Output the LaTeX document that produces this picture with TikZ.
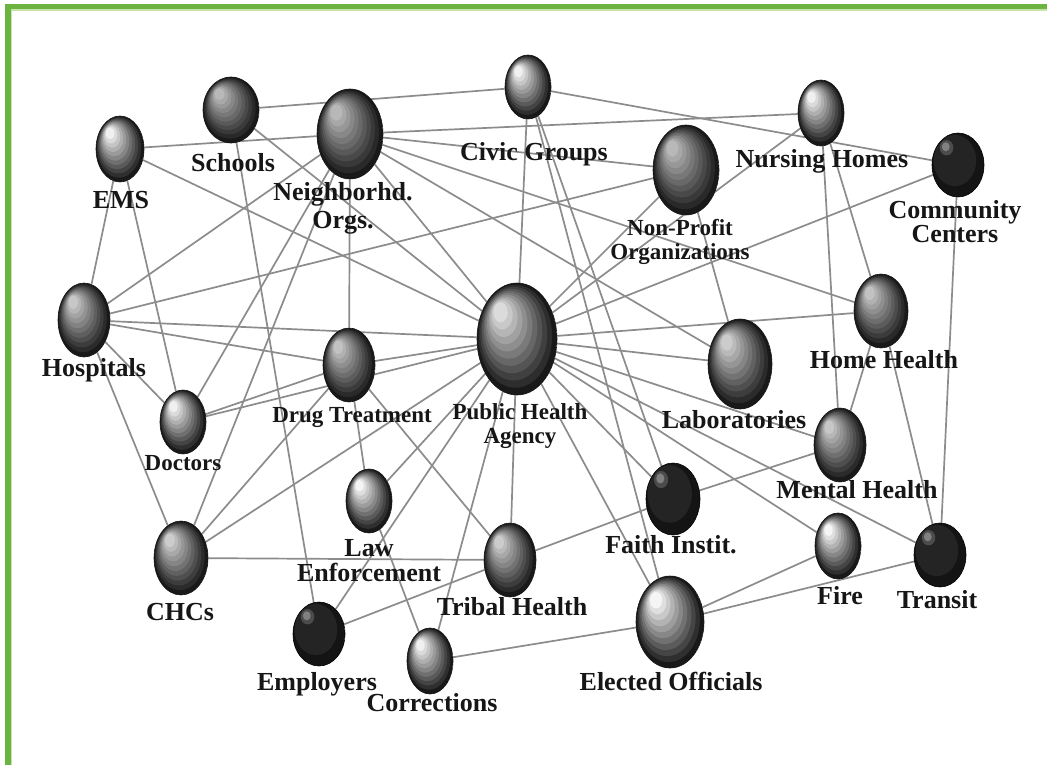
\documentclass[tikz,border=0pt]{standalone}
\usepackage{fontspec}
\setmainfont{Liberation Serif}
\usetikzlibrary{shapes.geometric,calc,backgrounds}
\definecolor{framegreen}{RGB}{108,180,66}
\definecolor{framelight}{RGB}{196,228,170}
\definecolor{edgegray}{RGB}{140,140,140}
\definecolor{ink}{RGB}{22,22,22}
\tikzset{
  sph/.style n args={3}{ellipse, inner sep=0pt, minimum width=#1*2pt, minimum height=#2*2pt,
    draw=black!92, line width=0.6pt,
    path picture={
      \foreach \k in {0,...,10}{
        \pgfmathsetmacro\s{1-\k*0.082}
        \pgfmathsetmacro\g{90-\k*(90-#3)/10}
        \pgfmathsetmacro\dx{-(1-\s)*0.50*#1}
        \pgfmathsetmacro\dy{(1-\s)*0.58*#2}
        \pgfmathsetmacro\rx{\s*#1}
        \pgfmathsetmacro\ry{\s*#2}
        \fill[black!\g] ($(path picture bounding box.center)+(\dx pt,\dy pt)$) ellipse [x radius=\rx pt, y radius=\ry pt];
      }
    }},
  dsph/.style 2 args={ellipse, inner sep=0pt, minimum width=#1*2pt, minimum height=#2*2pt,
    draw=black, line width=0.6pt,
    path picture={
      \fill[black!92] (path picture bounding box.center) ellipse [x radius=#1pt, y radius=#2pt];
      \fill[black!86] ($(path picture bounding box.center)+(-0.12*#1pt,0.14*#2pt)$) ellipse [x radius=0.82*#1pt, y radius=0.8*#2pt];
      \fill[black!70] ($(path picture bounding box.center)+(-0.44*#1pt,0.54*#2pt)$) ellipse [x radius=0.26*#1pt, y radius=0.24*#2pt];
      \fill[black!50] ($(path picture bounding box.center)+(-0.47*#1pt,0.57*#2pt)$) ellipse [x radius=0.15*#1pt, y radius=0.14*#2pt];
    }},
  lab/.style={font=\fontsize{26}{26}\selectfont\bfseries, text=ink, inner sep=0pt, text height=17.7pt, text depth=5.6pt},
  labsm/.style={font=\fontsize{23}{24}\selectfont\bfseries, text=ink, inner sep=0pt, text height=15.6pt, text depth=5pt},
  mlab/.style={font=\fontsize{26}{#1}\selectfont\bfseries, text=ink, inner sep=0pt, align=center},
  mlabsm/.style={font=\fontsize{23}{#1}\selectfont\bfseries, text=ink, inner sep=0pt, align=center},
  link/.style={draw=edgegray, line width=1.7pt}
}
\begin{document}
\begin{tikzpicture}[x=1pt,y=-1pt]
\useasboundingbox (0,0) rectangle (1047,765);
% spheres
\node[sph={23}{32}{6}]  (civic) at (528,87) {};
\node[sph={28}{33}{28}] (schools) at (231,110) {};
\node[sph={24}{33}{6}]  (ems) at (120,149) {};
\node[sph={33}{45}{28}] (neigh) at (350,134) {};
\node[sph={23}{33}{6}]  (nursing) at (821,113) {};
\node[sph={33}{45}{28}] (nonprofit) at (686,170) {};
\node[dsph={26}{32}]    (community) at (958,165) {};
\node[sph={26}{37}{22}] (hospitals) at (84,320) {};
\node[sph={40}{56}{14}] (pha) at (517,339) {};
\node[sph={26}{37}{24}] (drug) at (349,365) {};
\node[sph={23}{32}{6}]  (doctors) at (183,422) {};
\node[sph={32}{45}{20}] (labs) at (740,364) {};
\node[sph={27}{37}{24}] (home) at (881,311) {};
\node[sph={26}{37}{22}] (mental) at (840,445) {};
\node[dsph={27}{36}]    (faith) at (673,499) {};
\node[sph={23}{32}{4}]  (law) at (369,501) {};
\node[sph={27}{37}{20}] (chcs) at (181,558) {};
\node[sph={26}{37}{20}] (tribal) at (510,560) {};
\node[sph={23}{33}{4}]  (fire) at (838,546) {};
\node[dsph={26}{32}]    (transit) at (940,555) {};
\node[dsph={26}{32}]    (employers) at (319,634) {};
\node[sph={23}{33}{6}]  (corrections) at (430,661) {};
\node[sph={34}{46}{4}]  (elected) at (670,622) {};
% labels
\node[lab] (lcivic) at (534,154.5) {Civic Groups};
\node[lab] (lschools) at (233,165.5) {Schools};
\node[lab] (lems) at (121,202.5) {EMS};
\node[mlab=28] (lneigh) at (343,208.6) {Neighborhd.\\Orgs.};
\node[lab] (lnursing) at (822,161.5) {Nursing Homes};
\node[mlabsm=24] (lnonprofit) at (680,242) {Non-Profit\\Organizations};
\node[mlab=22] (lcommunity) at (955,221.2) {Community\\Centers};
\node[lab] (lhospitals) at (94,370.5) {Hospitals};
\node[mlabsm=24] (lpha) at (520,426.2) {Public Health\\Agency};
\node[labsm] (ldrug) at (352,417.3) {Drug Treatment};
\node[labsm] (ldoctors) at (183,465.3) {Doctors};
\node[lab] (llabs) at (734,422.5) {Laboratories};
\node[lab] (lhome) at (884,362.5) {Home Health};
\node[lab] (lmental) at (857,492.5) {Mental Health};
\node[lab] (lfaith) at (671,547.5) {Faith Instit.};
\node[mlab=25] (llaw) at (369,560.7) {Law\\Enforcement};
\node[lab] (lchcs) at (180,614.5) {CHCs};
\node[lab] (ltribal) at (512,609.5) {Tribal Health};
\node[lab] (lfire) at (840,598.5) {Fire};
\node[lab] (ltransit) at (937,602.5) {Transit};
\node[lab] (lemployers) at (317,684.5) {Employers};
\node[lab] (lcorrections) at (432,705.5) {Corrections};
\node[lab] (lelected) at (671,684.5) {Elected Officials};
\begin{scope}[on background layer]
\fill[white] (0,0) rectangle (1047,765);
\fill[framegreen] (5,4) rectangle (1047,9.5);
\fill[framegreen] (5,4) rectangle (10.5,765);
\fill[framelight] (10.5,9.5) rectangle (1047,10.6);
\fill[framelight] (10.5,9.5) rectangle (11.6,765);
\foreach \a/\b in {schools/civic, ems/neigh, neigh/nursing, civic/community, neigh/nonprofit,
  neigh/home, neigh/labs, neigh/pha, neigh/drug, neigh/hospitals, neigh/doctors, neigh/chcs,
  ems/pha, ems/hospitals, ems/doctors, schools/pha, schools/employers,
  hospitals/nonprofit, hospitals/pha, hospitals/drug, hospitals/doctors, hospitals/chcs,
  civic/pha, civic/elected, civic/faith, nonprofit/pha, nonprofit/labs,
  nursing/pha, nursing/mental, nursing/home, community/pha, community/transit,
  pha/home, pha/labs, pha/mental, pha/faith, pha/fire, pha/transit, pha/elected,
  pha/tribal, pha/employers, pha/corrections, pha/law, pha/drug, pha/doctors, pha/chcs,
  home/mental, home/transit, faith/mental, faith/tribal, fire/elected, transit/elected,
  corrections/elected, law/corrections, drug/law, drug/tribal, drug/doctors, drug/chcs,
  chcs/tribal, employers/tribal}
  \draw[link] (\a) -- (\b);
\end{scope}
\end{tikzpicture}
\end{document}
